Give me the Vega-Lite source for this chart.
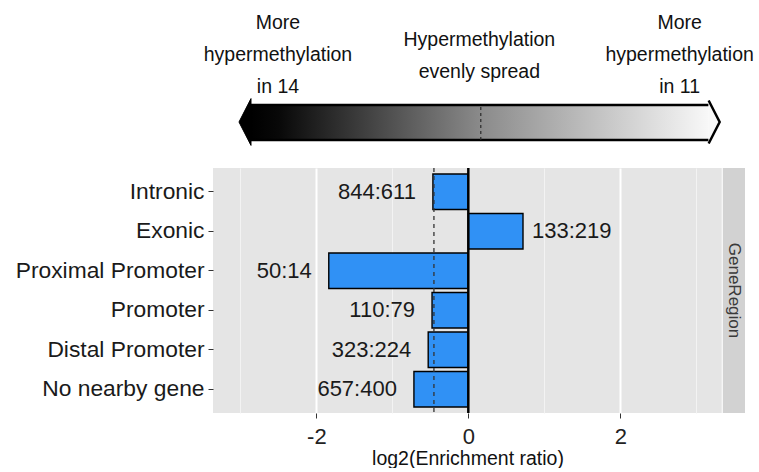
{
  "$schema": "https://vega.github.io/schema/vega-lite/v6.json",
  "background": "white",
  "padding": {"left": 15, "top": 0, "right": 2, "bottom": 0},
  "spacing": 16,
  "config": {
    "font": "Liberation Sans",
    "view": {"stroke": null}
  },
  "datasets": {
    "regions": [
      {"region": "Intronic", "n14": 844, "n11": 611, "label": "844:611", "lr": -0.4661},
      {"region": "Exonic", "n14": 133, "n11": 219, "label": "133:219", "lr": 0.7195},
      {"region": "Proximal Promoter", "n14": 50, "n11": 14, "label": "50:14", "lr": -1.8365},
      {"region": "Promoter", "n14": 110, "n11": 79, "label": "110:79", "lr": -0.4776},
      {"region": "Distal Promoter", "n14": 323, "n11": 224, "label": "323:224", "lr": -0.5280},
      {"region": "No nearby gene", "n14": 657, "n11": 400, "label": "657:400", "lr": -0.7159}
    ],
    "overall": [{"n14": 2117, "n11": 1547, "lr": -0.4526}]
  },
  "vconcat": [
    {
      "width": 532,
      "height": 150,
      "data": {"values": [{}]},
      "layer": [
        {
          "mark": {
            "type": "rect",
            "fill": {
              "gradient": "linear",
              "x1": 0, "y1": 0, "x2": 1, "y2": 0,
              "stops": [
                {"offset": 0, "color": "#000000"},
                {"offset": 0.06, "color": "#080808"},
                {"offset": 0.5, "color": "#8a8a8a"},
                {"offset": 1, "color": "#f8f8f8"}
              ]
            }
          },
          "encoding": {
            "x": {"datum": -2.86, "type": "quantitative", "scale": {"domain": [-3.36, 3.641], "nice": false, "zero": false}, "axis": null},
            "x2": {"datum": 3.162},
            "y": {"datum": 1.0, "type": "quantitative", "scale": {"domain": [0, 15], "nice": false, "zero": false}, "axis": null},
            "y2": {"datum": 4.5}
          }
        },
        {
          "mark": {"type": "rule", "color": "#000000", "strokeWidth": 2.5},
          "encoding": {"x": {"datum": -2.86}, "x2": {"datum": 3.162}, "y": {"datum": 4.5}}
        },
        {
          "mark": {"type": "rule", "color": "#000000", "strokeWidth": 2.5},
          "encoding": {"x": {"datum": -2.86}, "x2": {"datum": 3.162}, "y": {"datum": 1.0}}
        },
        {
          "mark": {"type": "rule", "color": "#2a2a2a", "strokeWidth": 1.2, "strokeDash": [3, 3]},
          "encoding": {"x": {"datum": 0.164}, "y": {"datum": 1.0}, "y2": {"datum": 4.5}}
        },
        {
          "mark": {"type": "point", "shape": "M-1,0L1,-3.9L1,3.9Z", "size": 144, "filled": true, "fill": "#000000", "stroke": "#000000", "strokeWidth": 1, "opacity": 1},
          "encoding": {"x": {"datum": -2.939}, "y": {"datum": 2.8}}
        },
        {
          "mark": {"type": "point", "shape": "M-1,-3.9L1,0L-1,3.9", "size": 121, "filled": true, "fill": "#f8f8f8", "stroke": "#000000", "strokeWidth": 2.5, "opacity": 1},
          "encoding": {"x": {"datum": 3.235}, "y": {"datum": 2.8}}
        },
        {
          "mark": {"type": "text", "text": ["More", "hypermethylation", "in 14"], "fontSize": 19.5, "lineHeight": 32, "align": "center", "baseline": "middle", "color": "#111111"},
          "encoding": {"x": {"datum": -2.505}, "y": {"datum": 12.7}}
        },
        {
          "mark": {"type": "text", "text": ["Hypermethylation", "evenly spread"], "fontSize": 19.5, "lineHeight": 32, "align": "center", "baseline": "middle", "color": "#111111"},
          "encoding": {"x": {"datum": 0.145}, "y": {"datum": 11.0}}
        },
        {
          "mark": {"type": "text", "text": ["More", "hypermethylation", "in 11"], "fontSize": 19.5, "lineHeight": 32, "align": "center", "baseline": "middle", "color": "#111111"},
          "encoding": {"x": {"datum": 2.781}, "y": {"datum": 12.7}}
        }
      ]
    },
    {
      "width": 532,
      "height": 245,
      "view": {"fill": "#e5e5e5", "stroke": null},
      "layer": [
        {
          "data": {"values": [{}]},
          "mark": {"type": "rect", "fill": "#d2d2d2"},
          "encoding": {"x": {"datum": 3.347}, "x2": {"datum": 3.641}}
        },
        {
          "data": {"values": [{}]},
          "mark": {"type": "rule", "color": "#ffffff", "strokeWidth": 1},
          "encoding": {"x": {"datum": 3.341}}
        },
        {
          "data": {"values": [{}]},
          "mark": {"type": "text", "text": "GeneRegion", "angle": 90, "fontSize": 17, "color": "#3a3a3a", "align": "center", "baseline": "middle"},
          "encoding": {"x": {"datum": 3.494}}
        },
        {
          "data": {"name": "regions"},
          "mark": {"type": "bar", "fill": "#3091f5", "stroke": "#000000", "strokeWidth": 1.4},
          "encoding": {
            "x": {
              "field": "lr",
              "type": "quantitative",
              "scale": {"domain": [-3.36, 3.641], "nice": false, "zero": false},
              "axis": {
                "values": [-3, -2, -1, 0, 1, 2, 3],
                "title": "log2(Enrichment ratio)",
                "grid": true,
                "gridColor": {"condition": {"test": "datum.value % 2 === 0", "value": "#ffffff"}, "value": "#f3f3f3"},
                "gridWidth": {"condition": {"test": "datum.value % 2 === 0", "value": 2}, "value": 1},
                "domain": false,
                "tickSize": 5,
                "tickColor": "#333333",
                "tickOpacity": {"condition": {"test": "datum.value % 2 === 0", "value": 1}, "value": 0},
                "labelExpr": "datum.value % 2 === 0 ? '' + datum.value : ''",
                "labelFontSize": 22,
                "labelColor": "#222222",
                "labelPadding": 8,
                "titleFontSize": 19.5,
                "titleFontWeight": "normal",
                "titleColor": "#111111",
                "titlePadding": 2,
                "titleX": 254.5
              }
            },
            "x2": {"datum": 0},
            "y": {
              "field": "region",
              "type": "nominal",
              "sort": null,
              "scale": {"paddingInner": 0.1, "paddingOuter": 0.15},
              "axis": {
                "title": null,
                "domain": false,
                "tickSize": 5,
                "tickColor": "#333333",
                "labelFontSize": 22.8,
                "labelColor": "#1a1a1a",
                "labelPadding": 4,
                "labelLimit": 0,
                "grid": false
              }
            }
          }
        },
        {
          "data": {"name": "regions"},
          "transform": [{"filter": "datum.lr < 0"}],
          "mark": {"type": "text", "align": "right", "baseline": "middle", "dx": -17, "fontSize": 22, "color": "#1a1a1a"},
          "encoding": {
            "x": {"field": "lr", "type": "quantitative"},
            "y": {"field": "region", "type": "nominal", "sort": null},
            "text": {"field": "label"}
          }
        },
        {
          "data": {"name": "regions"},
          "transform": [{"filter": "datum.lr >= 0"}],
          "mark": {"type": "text", "align": "left", "baseline": "middle", "dx": 9, "fontSize": 22, "color": "#1a1a1a"},
          "encoding": {
            "x": {"field": "lr", "type": "quantitative"},
            "y": {"field": "region", "type": "nominal", "sort": null},
            "text": {"field": "label"}
          }
        },
        {
          "data": {"name": "overall"},
          "mark": {"type": "rule", "color": "#333333", "strokeWidth": 1.3, "strokeDash": [4, 4]},
          "encoding": {"x": {"field": "lr", "type": "quantitative"}}
        },
        {
          "data": {"values": [{}]},
          "mark": {"type": "rule", "color": "#000000", "strokeWidth": 2.5},
          "encoding": {"x": {"datum": 0}}
        }
      ]
    }
  ]
}
